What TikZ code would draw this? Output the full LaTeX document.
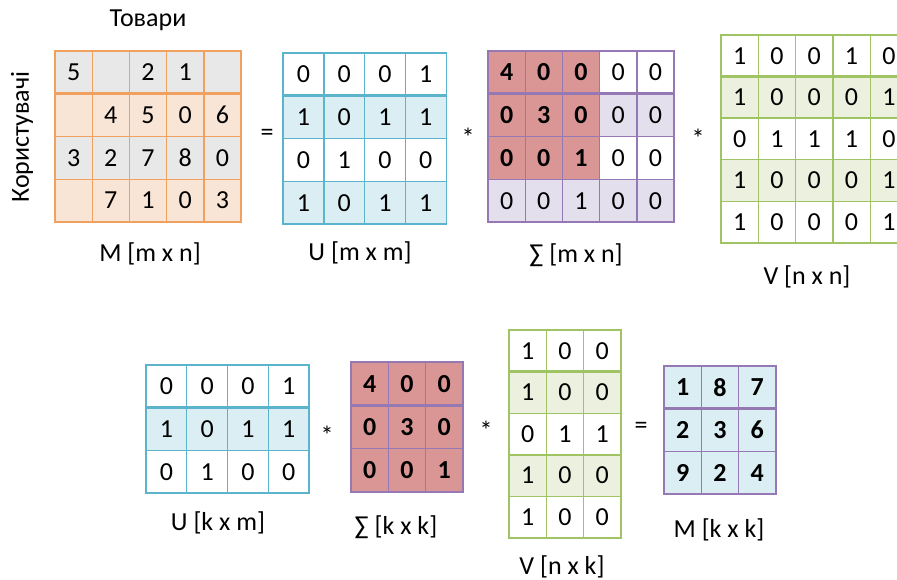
\documentclass[tikz,border=0pt]{standalone}
\usepackage{fontspec}
\setmainfont{Carlito}
\definecolor{Mline}{RGB}{240,160,95}
\definecolor{Mgray}{RGB}{232,232,232}
\definecolor{Mpeach}{RGB}{248,229,214}
\definecolor{Uline}{RGB}{91,180,204}
\definecolor{Ufill}{RGB}{218,238,243}
\definecolor{Sline}{RGB}{150,120,180}
\definecolor{Srose}{RGB}{218,150,148}
\definecolor{Slav}{RGB}{228,223,236}
\definecolor{Vline}{RGB}{160,196,100}
\definecolor{Vfill}{RGB}{235,241,222}
\tikzset{
  cell/.style={inner sep=0pt, outer sep=0pt, minimum width=\cw pt, minimum height=\ch pt, line width=1.4pt},
  lbl/.style={inner sep=0pt},
  sep/.style={line width=2.8pt}
}
% #1 name, #2 left, #3 top, #4 cell width, #5 cell height, #6 line colour, #7 fill code, #8 number of columns, #9 rows
\newcommand\mymat[9]{%
  \def\cw{#4}\def\ch{#5}%
  \foreach \r [count=\i] in {#9} {
    \foreach \v [count=\j] in \r {
      \def\f{white}\def\ft{}#7
      \node[cell, draw=#6, fill=\f] (#1-\i-\j) at ({#2+(\j-0.5)*#4},{#3+(\i-0.5)*#5}) {\ft\v};
    }
  }
  \draw[#6, sep] (#1-1-1.south west) -- (#1-1-#8.south east);
}
\begin{document}
\begin{tikzpicture}[x=1pt,y=-1pt, every node/.style={font=\fontsize{26}{30}\selectfont}]
\path[use as bounding box] (0,0) rectangle (897,580);
\clip (0,0) rectangle (897,580);

% top row
\node[lbl] (goods) at (148,20) {Товари};
\node[lbl, rotate=90] (users) at (22,137) {Користувачі};
\mymat{M}{55}{51}{37.2}{42.75}{Mline}{\ifodd\i\relax\def\f{Mgray}\else\def\f{Mpeach}\fi}{5}
  {{5,{},2,1,{}},{{},4,5,0,6},{3,2,7,8,0},{{},7,1,0,3}}
\node[lbl] (Mlab) at (150,254) {M [m x n]};

\node[lbl] (eq1) at (267,135) {=};
\mymat{U}{283}{53}{40.8}{42.8}{Uline}{\ifodd\i\relax\else\def\f{Ufill}\fi}{4}
  {{0,0,0,1},{1,0,1,1},{0,1,0,0},{1,0,1,1}}
\node[lbl] (Ulab) at (360,253) {U [m x m]};

\node[lbl] (st1) at (468,137) {*};
\mymat{S}{488}{51}{37.2}{42.8}{Sline}{\ifodd\i\relax\else\def\f{Slav}\fi\ifnum\i<4 \ifnum\j<4 \def\f{Srose}\def\ft{\bfseries}\fi\fi}{5}
  {{4,0,0,0,0},{0,3,0,0,0},{0,0,1,0,0},{0,0,1,0,0}}
\node[lbl] (Slab) at (576,255) {∑ [m x n]};

\node[lbl] (st2) at (698,138) {*};
\mymat{V}{721}{35}{37.3}{41.6}{Vline}{\ifodd\i\relax\else\def\f{Vfill}\fi}{5}
  {{1,0,0,1,0},{1,0,0,0,1},{0,1,1,1,0},{1,0,0,0,1},{1,0,0,0,1}}
\node[lbl] (Vlab) at (807,277) {V [n x n]};

% bottom row
\mymat{Uk}{146}{365}{40.75}{42.7}{Uline}{\ifodd\i\relax\else\def\f{Ufill}\fi}{4}
  {{0,0,0,1},{1,0,1,1},{0,1,0,0}}
\node[lbl] (Uklab) at (218,523) {U [k x m]};

\node[lbl] (st3) at (327,435) {*};
\mymat{Sk}{351}{362}{37.3}{43.3}{Sline}{\def\f{Srose}\def\ft{\bfseries}}{3}
  {{4,0,0},{0,3,0},{0,0,1}}
\node[lbl] (Sklab) at (396,527) {∑ [k x k]};

\node[lbl] (st4) at (486,430) {*};
\mymat{Vk}{509}{330}{37.3}{41.6}{Vline}{\ifodd\i\relax\else\def\f{Vfill}\fi}{3}
  {{1,0,0},{1,0,0},{0,1,1},{1,0,0},{1,0,0}}
\node[lbl] (Vklab) at (562,567) {V [n x k]};

\node[lbl] (eq2) at (641,428) {=};
\mymat{Mk}{664}{366}{37.3}{42.7}{Sline}{\def\f{Ufill}\def\ft{\bfseries}}{3}
  {{1,8,7},{2,3,6},{9,2,4}}
\node[lbl] (Mklab) at (719,530) {M [k x k]};
\end{tikzpicture}
\end{document}
